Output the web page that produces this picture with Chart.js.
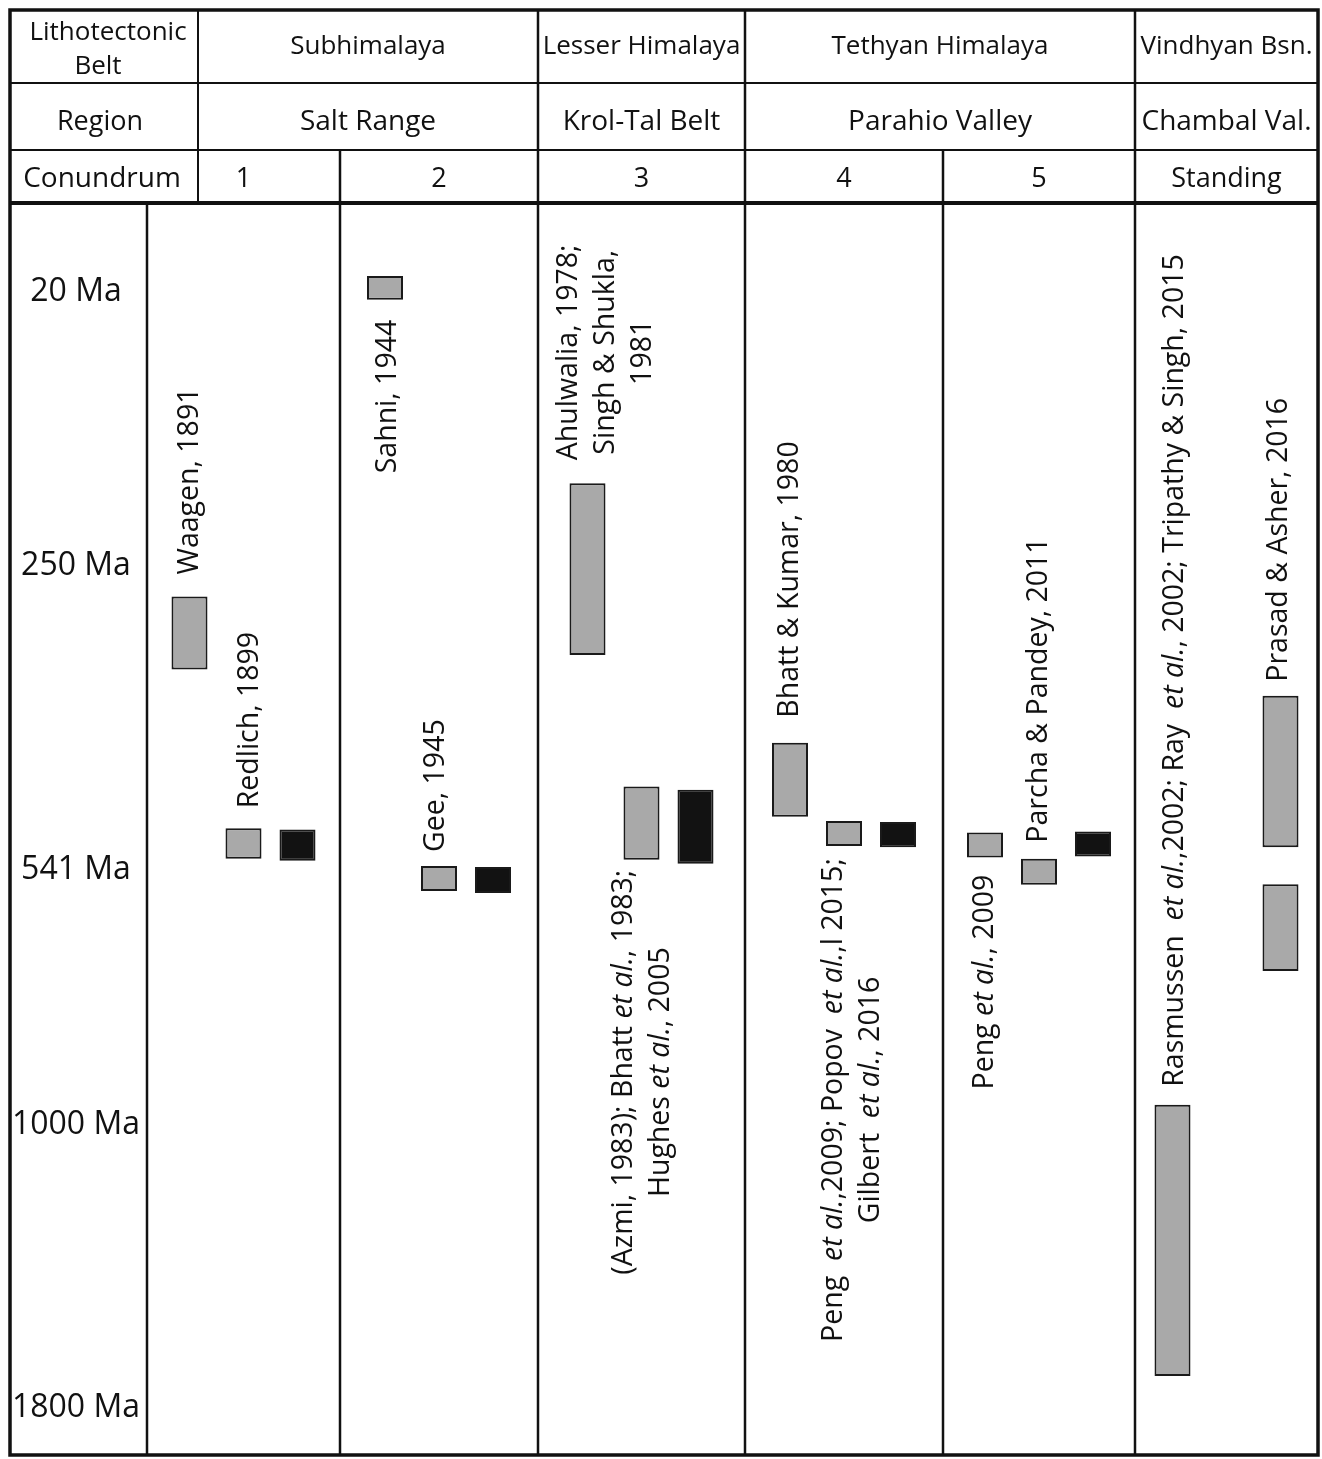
<!DOCTYPE html>
<html>
<head>
<meta charset="utf-8">
<script src="https://cdn.jsdelivr.net/npm/chart.js@4"></script>
<style>
  html, body { margin: 0; padding: 0; background: #ffffff; }
  canvas { display: block; }
</style>
</head>
<body>
<canvas id="chart" width="1322" height="1459"></canvas>
<script>
// ---------------- DATA ----------------
const columns = ['1', '2', '3', '4', '5', 'Standing'];
const belts = ['Subhimalaya', 'Lesser Himalaya', 'Tethyan Himalaya', 'Vindhyan Bsn.'];
const regions = ['Salt Range', 'Krol-Tal Belt', 'Parahio Valley', 'Chambal Val.'];
const beltColumnCount = [2, 1, 2, 1];

const ageTicks = [20, 250, 541, 1000, 1800];
const ageTickLabels = ['20 Ma', '250 Ma', '541 Ma', '1000 Ma', '1800 Ma'];

// first (left) grey bar of each conundrum column, [young, old] in Ma
const firstRanges = [[282, 352], [9, 29], [183, 338], [422, 493], [508, 532], [969, 1718]];
const firstCitations = [
  'Waagen, 1891',
  'Sahni, 1944',
  ['Ahulwalia, 1978;', 'Singh & Shukla,', '1981'],
  'Bhatt & Kumar, 1980',
  'Peng {et al.}, 2009',
  'Rasmussen  {et al.},2002; Ray  {et al.}, 2002; Tripathy & Singh, 2015'
];

// second (middle) grey bar
const secondRanges = [[504, 533], [540, 584], [464, 534], [497, 521], [533, 573], null];
const secondCitations = [
  'Redlich, 1899',
  'Gee, 1945',
  ['(Azmi, 1983); Bhatt {et al.}, 1983;', 'Hughes {et al.}, 2005'],
  ['Peng  {et al.},2009; Popov  {et al.},l 2015;', 'Gilbert  {et al.}, 2016'],
  'Parcha & Pandey, 2011',
  null
];

// black (right) bar of columns 1-5
const blackRanges = [[505, 535], [541, 588], [467, 538], [498, 522], [507, 531], null];
// Standing column: two grey ranges in the right position
const standingRanges = [[377, 522], [572, 728]];
const standingCitations = ['Prasad & Asher, 2016', null];

// ---------------- LAYOUT / STYLE ----------------
const COLUMN_WIDTHS = [193, 198, 207, 198, 192, 183];   // relative widths of body columns
const AGE_SEGMENTS = [86, 274, 304, 255, 283, 50];      // top margin, spacing between age ticks, bottom margin
const HEADER_TOP = 10, ROW1_BOTTOM = 83, ROW2_BOTTOM = 150, HEADER_LEFT_CELL = 198;
const GREY = '#a9a9a9', BLACK = '#121212', EDGE = '#1a1a1a', INK = '#111111';
const FONT = '"Open Sans", "Noto Sans", sans-serif';
const CITE_SIZE = 28.5, CITE_LINE = 37;

// [side, gap, dx] per citation
const citeLayout = [
  [['above', 22, 0], ['below', 20, 3], ['above', 23, 18], ['above', 25, 0], ['below', 17, 0], ['above', 18, 2]],
  [['above', 20, 6], ['above', 14, -3], ['below', 10, 1], ['below', 12, 8], ['above', 16, 0]],
  [null, null, null, null, null, ['above', 14, -2], null]
];

// ---------------- CUSTOM SCALES ----------------
class ColumnScale extends Chart.CategoryScale {
  static id = 'columns';
  static defaults = {};
  getPixelForValue(value, index) {
    if (typeof value !== 'number') value = this.parse(value, index);
    if (value === null || value === undefined || isNaN(value)) return NaN;
    const w = COLUMN_WIDTHS;
    const total = w.reduce((a, b) => a + b, 0);
    let k = Math.floor(value + 0.5);
    k = Math.max(0, Math.min(w.length - 1, k));
    const frac = value + 0.5 - k;
    let cum = 0;
    for (let i = 0; i < k; i++) cum += w[i];
    return this.getPixelForDecimal((cum + frac * w[k]) / total);
  }
}

class AgeScale extends Chart.LinearScale {
  static id = 'age';
  static defaults = {};
  buildTicks() {
    return ageTicks.map(v => ({ value: v }));
  }
  getPixelForValue(value) {
    if (value === null || value === undefined || isNaN(value)) return NaN;
    const seg = AGE_SEGMENTS, t = ageTicks;
    const total = seg.reduce((a, b) => a + b, 0);
    let i = 0;
    while (i < t.length - 2 && value > t[i + 1]) i++;
    let pos = seg[0];
    for (let k = 0; k < i; k++) pos += seg[k + 1];
    pos += (value - t[i]) / (t[i + 1] - t[i]) * seg[i + 1];
    return this.getPixelForDecimal(pos / total);
  }
}
Chart.register(ColumnScale, AgeScale);

// ---------------- DATASETS ----------------
const toPoints = (ranges, cites) => ranges
  .map((r, i) => r ? { x: columns[i], y: r, cite: cites[i] } : null)
  .filter(Boolean);

const rightPoints = toPoints(blackRanges, blackRanges.map(() => null))
  .concat(standingRanges.map((r, i) => ({ x: 'Standing', y: r, cite: standingCitations[i] })));

// ---------------- PLUGINS ----------------
function parseRich(text) {
  return text.split(/(\{[^}]*\})/).filter(s => s.length).map(s =>
    s[0] === '{' ? { text: s.slice(1, -1), italic: true } : { text: s, italic: false });
}
function fontFor(italic) { return (italic ? 'italic ' : '') + CITE_SIZE + 'px ' + FONT; }
function measureRich(ctx, text) {
  let w = 0;
  parseRich(text).forEach(seg => { ctx.font = fontFor(seg.italic); w += ctx.measureText(seg.text).width; });
  return w;
}
function drawRich(ctx, text, x, y) {
  parseRich(text).forEach(seg => {
    ctx.font = fontFor(seg.italic);
    ctx.fillText(seg.text, x, y);
    x += ctx.measureText(seg.text).width;
  });
}

const citationPlugin = {
  id: 'citations',
  afterDatasetsDraw(chart) {
    const ctx = chart.ctx;
    ctx.save();
    ctx.fillStyle = INK;
    ctx.textAlign = 'left';
    ctx.textBaseline = 'middle';
    chart.data.datasets.forEach((ds, di) => {
      const meta = chart.getDatasetMeta(di);
      ds.data.forEach((pt, pi) => {
        if (!pt || !pt.cite) return;
        const lay = citeLayout[di][pi];
        if (!lay) return;
        const [side, gap, dx] = lay;
        const el = meta.data[pi];
        const top = Math.min(el.y, el.base), bottom = Math.max(el.y, el.base);
        const lines = Array.isArray(pt.cite) ? pt.cite : [pt.cite];
        const widths = lines.map(l => measureRich(ctx, l));
        const len = Math.max(...widths);
        const cx = el.x + dx;
        const cy = side === 'above' ? top - gap - len / 2 : bottom + gap + len / 2;
        ctx.save();
        ctx.translate(cx, cy);
        ctx.rotate(-Math.PI / 2);
        lines.forEach((l, i) => drawRich(ctx, l, -widths[i] / 2, (i - (lines.length - 1) / 2) * CITE_LINE));
        ctx.restore();
      });
    });
    ctx.restore();
  }
};

const tablePlugin = {
  id: 'table',
  afterDraw(chart) {
    const { ctx, chartArea: ca, scales } = chart;
    const xs = scales.x;
    const bound = i => xs.getPixelForValue(i - 0.5);
    const left = HEADER_TOP, right = ca.right;
    ctx.save();
    ctx.strokeStyle = INK;
    ctx.lineCap = 'butt';
    const line = (x1, y1, x2, y2, w) => {
      ctx.lineWidth = w; ctx.beginPath(); ctx.moveTo(x1, y1); ctx.lineTo(x2, y2); ctx.stroke();
    };
    // horizontal rules
    line(left, ROW1_BOTTOM, right, ROW1_BOTTOM, 2);
    line(left, ROW2_BOTTOM, right, ROW2_BOTTOM, 2);
    line(left, ca.top, right, ca.top, 4);
    // vertical rules
    line(HEADER_LEFT_CELL, HEADER_TOP, HEADER_LEFT_CELL, ca.top, 2);
    line(ca.left, ca.top, ca.left, ca.bottom, 2.5);
    const beltBounds = [];
    let acc = 0;
    beltColumnCount.forEach(n => { acc += n; beltBounds.push(acc); });
    for (let i = 1; i < columns.length; i++) {
      const x = bound(i);
      const isBelt = beltBounds.includes(i);
      line(x, isBelt ? HEADER_TOP : ROW2_BOTTOM, x, ca.bottom, 2.5);
    }
    // outer frame
    ctx.lineWidth = 3.5;
    ctx.strokeRect(left, HEADER_TOP, right - left, ca.bottom - HEADER_TOP);

    // header texts
    ctx.fillStyle = INK;
    ctx.textAlign = 'center';
    ctx.textBaseline = 'middle';
    const lcx = (left + HEADER_LEFT_CELL) / 2;
    ctx.font = '26px ' + FONT;
    ctx.fillText('Lithotectonic', lcx + 4, 33);
    ctx.fillText('Belt', lcx - 6, 67);
    ctx.font = '27px ' + FONT;
    ctx.fillText('Region', lcx - 4, 122);
    ctx.font = '28px ' + FONT;
    ctx.fillText('Conundrum', lcx - 2, 179);

    let startCol = 0;
    belts.forEach((b, gi) => {
      const x0 = gi === 0 ? HEADER_LEFT_CELL : bound(startCol);
      const x1 = bound(startCol + beltColumnCount[gi]);
      const cx = (x0 + x1) / 2;
      ctx.font = '26px ' + FONT;
      ctx.fillText(b, cx, 47);
      ctx.font = '28px ' + FONT;
      ctx.fillText(regions[gi], cx, 122);
      startCol += beltColumnCount[gi];
    });
    ctx.restore();
  }
};

// ---------------- CHART ----------------
Chart.defaults.font.family = FONT;
Chart.defaults.color = INK;

new Chart(document.getElementById('chart'), {
  type: 'bar',
  data: {
    labels: columns,
    datasets: [
      {
        label: 'First grey range',
        data: toPoints(firstRanges, firstCitations),
        backgroundColor: GREY
      },
      {
        label: 'Second grey range',
        data: toPoints(secondRanges, secondCitations),
        backgroundColor: GREY
      },
      {
        label: 'Black range',
        data: rightPoints,
        backgroundColor: ctx => (ctx.raw && ctx.raw.x === 'Standing') ? GREY : BLACK
      }
    ]
  },
  options: {
    responsive: false,
    animation: false,
    events: [],
    layout: { padding: { left: 10, top: ROW2_BOTTOM, right: 4, bottom: 4 } },
    datasets: {
      bar: {
        categoryPercentage: 0.864,
        barPercentage: 0.667,
        borderWidth: 2,
        borderColor: EDGE,
        borderSkipped: false
      }
    },
    plugins: {
      legend: { display: false },
      tooltip: { enabled: false },
      title: { display: false }
    },
    scales: {
      x: {
        type: 'columns',
        position: 'top',
        offset: true,
        grid: { display: false, drawTicks: false },
        border: { display: false },
        ticks: { font: { size: 27 }, color: INK, padding: 7, maxRotation: 0, autoSkip: false },
        afterFit: s => { s.height = 53; s.paddingLeft = 0; s.paddingRight = 0; }
      },
      y: {
        type: 'age',
        position: 'left',
        reverse: true,
        grid: { display: false, drawTicks: false },
        border: { display: false },
        ticks: {
          font: { size: 32 },
          color: INK,
          padding: 7,
          labelOffset: 3,
          crossAlign: 'center',
          autoSkip: false,
          callback: v => ageTickLabels[ageTicks.indexOf(v)]
        },
        afterFit: s => { s.width = 137; s.paddingTop = 0; s.paddingBottom = 0; }
      }
    }
  },
  plugins: [citationPlugin, tablePlugin]
});
</script>
</body>
</html>
